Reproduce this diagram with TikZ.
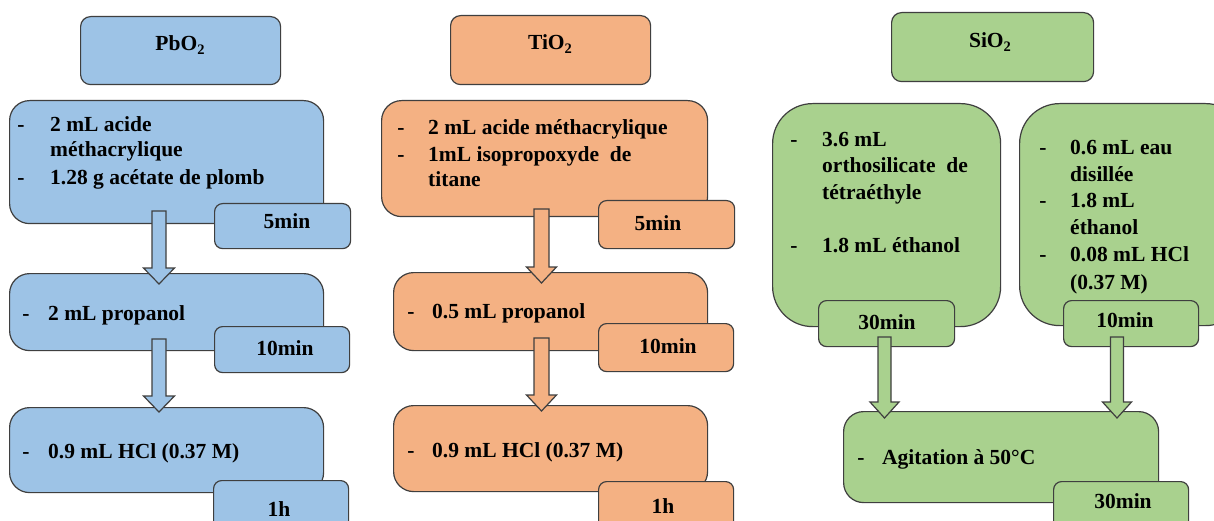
\documentclass[tikz,border=0pt]{standalone}
\usepackage{fontspec}
\setmainfont{Liberation Serif}[BoldFont={Liberation Serif Bold}]
\definecolor{bordc}{HTML}{3F3F3F}
\definecolor{pbfill}{HTML}{9DC3E6}
\definecolor{tifill}{HTML}{F4B183}
\definecolor{sifill}{HTML}{A9D18E}
\newcommand\subtwo{\raisebox{-0.4ex}{\fontsize{14.5}{14.5}\selectfont 2}}
\newcommand\blkarrow[6]{% xc, ytop, ytip, shaft half, head half, fill
  \draw[arrowline, fill=#6] ({#1-#4},#2) -- ({#1+#4},#2) -- ({#1+#4},{#3-16}) -- ({#1+#5},{#3-16}) -- (#1,#3) -- ({#1-#5},{#3-16}) -- ({#1-#4},{#3-16}) -- cycle;}
\begin{document}
\begin{tikzpicture}[x=1pt,y=-1pt,
  every node/.style={font=\fontsize{21.5}{25}\selectfont\bfseries, inner sep=0pt},
  bx/.style={draw=bordc, line width=1.2pt, rounded corners=#1, anchor=north west},
  arrowline/.style={draw=bordc, line width=1.2pt, line join=miter},
  tx/.style={anchor=base west},
  dsh/.style={anchor=base}]
\useasboundingbox (0,0) rectangle (1214,521);
\clip (0,0) rectangle (1214,521);
\fill[white] (0,0) rectangle (1214,521);

% ---------- PbO2 ----------
\node[bx=10pt, fill=pbfill, minimum width=200pt, minimum height=68pt] (pbT) at (80,16) {};
\node[anchor=base] (pbTt) at (180,51) {PbO\subtwo};
\node[bx=20pt, fill=pbfill, minimum width=314pt, minimum height=123pt] (pb1) at (9,100) {};
\node[bx=20pt, fill=pbfill, minimum width=314pt, minimum height=77pt] (pb2) at (9,273) {};
\node[bx=20pt, fill=pbfill, minimum width=314pt, minimum height=85pt] (pb3) at (9,407) {};
\node[bx=8pt, fill=pbfill, minimum width=136pt, minimum height=45pt] (pbt1) at (214,203) {};
\node[bx=8pt, fill=pbfill, minimum width=135pt, minimum height=46pt] (pbt2) at (214,326) {};
\node[bx=8pt, fill=pbfill, minimum width=135pt, minimum height=60pt] (pbt3) at (213,480) {};
\node[dsh] (pbd1) at (21,132) {-};
\node[tx] (pba1) at (50,132) {2 mL acide};
\node[tx] (pba2) at (50,157) {méthacrylique};
\node[dsh] (pbd2) at (21,185) {-};
\node[tx] (pba3) at (50,185) {1.28 g acétate de plomb};
\node[dsh] (pbd3) at (26,320) {-};
\node[tx] (pbb1) at (48,320) {2 mL propanol};
\node[dsh] (pbd4) at (26,458) {-};
\node[tx] (pbc1) at (48,458) {0.9 mL HCl (0.37 M)};
\node[anchor=base] (pbtt1) at (287,229) {5min};
\node[anchor=base] (pbtt2) at (285,355) {10min};
\node[anchor=base] (pbtt3) at (279,516) {1h};
\blkarrow{159}{211}{284}{7}{15.5}{pbfill}
\blkarrow{159}{339}{412}{7}{15.5}{pbfill}

% ---------- TiO2 ----------
\node[bx=10pt, fill=tifill, minimum width=200pt, minimum height=69pt] (tiT) at (450,15) {};
\node[anchor=base] (tiTt) at (550,50) {TiO\subtwo};
\node[bx=20pt, fill=tifill, minimum width=326pt, minimum height=116pt] (ti1) at (381,100) {};
\node[bx=20pt, fill=tifill, minimum width=314pt, minimum height=78pt] (ti2) at (393,272) {};
\node[bx=20pt, fill=tifill, minimum width=314pt, minimum height=86pt] (ti3) at (393,405) {};
\node[bx=8pt, fill=tifill, minimum width=136pt, minimum height=48pt] (tit1) at (598,200) {};
\node[bx=8pt, fill=tifill, minimum width=135pt, minimum height=48pt] (tit2) at (598,323) {};
\node[bx=8pt, fill=tifill, minimum width=135pt, minimum height=60pt] (tit3) at (598,481) {};
\node[dsh] (tid1) at (401,135) {-};
\node[tx] (tia1) at (428,135) {2 mL acide méthacrylique};
\node[dsh] (tid2) at (401,162) {-};
\node[tx] (tia2) at (428,162) {1mL isopropoxyde\ \ de};
\node[tx] (tia3) at (428,187) {titane};
\node[dsh] (tid3) at (411,318) {-};
\node[tx] (tib1) at (432,318) {0.5 mL propanol};
\node[dsh] (tid4) at (411,457) {-};
\node[tx] (tic1) at (432,457) {0.9 mL HCl (0.37 M)};
\node[anchor=base] (titt1) at (658,231) {5min};
\node[anchor=base] (titt2) at (668,353) {10min};
\node[anchor=base] (titt3) at (663,513) {1h};
\blkarrow{541.5}{209}{283}{7.5}{15}{tifill}
\blkarrow{541.5}{338}{411}{7.5}{15}{tifill}

% ---------- SiO2 ----------
\node[bx=10pt, fill=sifill, minimum width=202pt, minimum height=69pt] (siT) at (891,12) {};
\node[anchor=base] (siTt) at (990,48) {SiO\subtwo};
\node[bx=40pt, fill=sifill, minimum width=228pt, minimum height=223pt] (siL) at (772,103) {};
\node[bx=40pt, fill=sifill, minimum width=226pt, minimum height=222pt] (siR) at (1019,103) {};
\node[bx=20pt, fill=sifill, minimum width=315pt, minimum height=91pt] (si3) at (843,411) {};
\node[bx=8pt, fill=sifill, minimum width=136pt, minimum height=46pt] (sit1) at (818,300) {};
\node[bx=8pt, fill=sifill, minimum width=135pt, minimum height=46pt] (sit2) at (1063,300) {};
\node[bx=8pt, fill=sifill, minimum width=135pt, minimum height=60pt] (sit3) at (1053,481) {};
\node[dsh] (sid1) at (794,147) {-};
\node[tx] (sil1) at (822,147) {3.6 mL};
\node[tx] (sil2) at (822,173) {orthosilicate\ \ de};
\node[tx] (sil3) at (822,200) {tétraéthyle};
\node[dsh] (sid2) at (794,252) {-};
\node[tx] (sil4) at (822,252) {1.8 mL éthanol};
\node[dsh] (sid3) at (1043,155) {-};
\node[tx] (sir1) at (1070,155) {0.6 mL eau};
\node[tx] (sir2) at (1070,182) {disillée};
\node[dsh] (sid4) at (1043,208) {-};
\node[tx] (sir3) at (1070,208) {1.8 mL};
\node[tx] (sir4) at (1070,235) {éthanol};
\node[dsh] (sid5) at (1043,261) {-};
\node[tx] (sir5) at (1070,261) {0.08 mL HCl};
\node[tx] (sir6) at (1070,289) {(0.37 M)};
\node[dsh] (sid6) at (861,464) {-};
\node[tx] (sic1) at (882,464) {Agitation à 50°C};
\node[anchor=base] (sitt1) at (887,329) {30min};
\node[anchor=base] (sitt2) at (1125,327) {10min};
\node[anchor=base] (sitt3) at (1123,508) {30min};
\blkarrow{884.5}{337}{418}{6.5}{14.5}{sifill}
\blkarrow{1117}{337}{418}{6.5}{14.5}{sifill}
\end{tikzpicture}
\end{document}
